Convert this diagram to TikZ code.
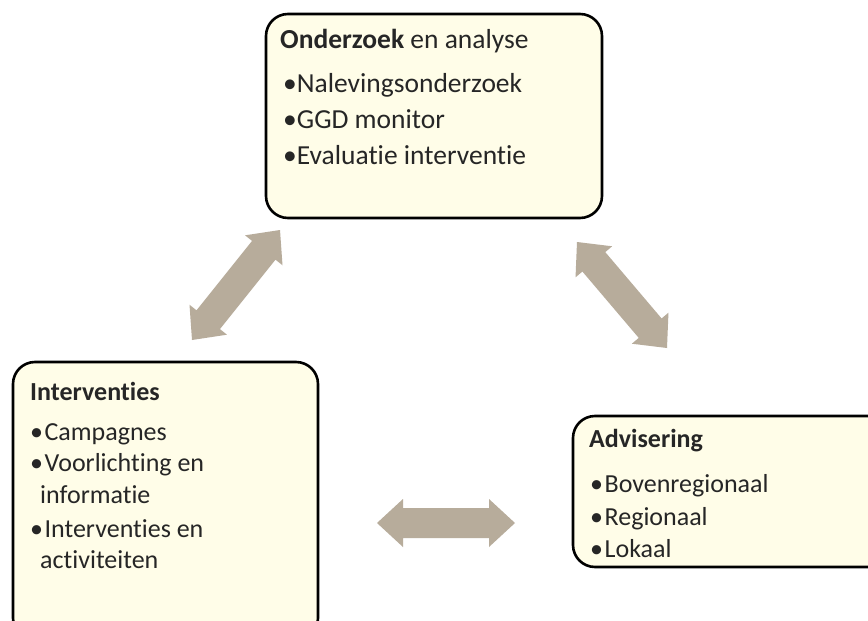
\documentclass[tikz,border=0pt]{standalone}
\usepackage{fontspec}
\setmainfont[Ligatures={NoCommon,NoContextual}]{Carlito}
\usetikzlibrary{calc}
\definecolor{boxfill}{HTML}{FFFDE8}
\definecolor{arrowfill}{HTML}{B7AC9B}
\tikzset{
  box/.style={draw=black, line width=2.6pt, fill=boxfill, rounded corners=22pt, inner sep=0pt},
  txt/.style={anchor=base west, inner sep=0pt, text=black!85},
  bigtxt/.style={txt, font=\fontsize{27.5}{33}\selectfont},
  midtxt/.style={txt, font=\fontsize{26}{31}\selectfont},
  arrowbody/.style={fill=arrowfill, draw=none},
}
\newcommand{\blockarrow}[3]{%
  \coordinate (#3h1) at ($(#1)!26pt!(#2)$);
  \coordinate (#3h2) at ($(#2)!26pt!(#1)$);
  \fill[arrowbody] (#1) -- ($(#3h1)!24pt!90:(#2)$) -- ($(#3h1)!15pt!90:(#2)$)
    -- ($(#3h2)!15pt!-90:(#1)$) -- ($(#3h2)!24pt!-90:(#1)$) -- (#2)
    -- ($(#3h2)!24pt!90:(#1)$) -- ($(#3h2)!15pt!90:(#1)$)
    -- ($(#3h1)!15pt!-90:(#2)$) -- ($(#3h1)!24pt!-90:(#2)$) -- cycle;
}
\begin{document}
\begin{tikzpicture}[x=1pt,y=-1pt]
\useasboundingbox (0,0) rectangle (868,621);
\clip (0,0) rectangle (868,621);
\fill[white] (0,0) rectangle (868,621);
% boxes
\node[box, minimum width=336pt, minimum height=204pt] (top) at (434,116) {};
\node[box, minimum width=305pt, minimum height=278pt] (left) at (165.5,501) {};
\node[box, minimum width=327pt, minimum height=151pt] (right) at (736.5,491.5) {};
% text top
\node[bigtxt] (t0) at (280,48) {\textbf{Onderzoek} en analyse};
\node[bigtxt] (t1) at (283,92) {•Nalevingsonderzoek};
\node[bigtxt] (t2) at (283,128) {•GGD monitor};
\node[bigtxt] (t3) at (283,164) {•Evaluatie interventie};
% text left
\node[midtxt] (l0) at (30,400) {\textbf{Interventies}};
\node[midtxt] (l1) at (30,440) {•\kern1.5pt Campagnes};
\node[midtxt] (l2) at (30,471) {•\kern1.5pt Voorlichting en};
\node[midtxt] (l3) at (40,503) {informatie};
\node[midtxt] (l4) at (30,537) {•\kern1.5pt Interventies en};
\node[midtxt] (l5) at (40,568) {activiteiten};
% text right
\node[midtxt] (r0) at (589,447) {\textbf{Advisering}};
\node[midtxt] (r1) at (590,492) {•\kern1.5pt Bovenregionaal};
\node[midtxt] (r2) at (590,525) {•\kern1.5pt Regionaal};
\node[midtxt] (r3) at (590,557) {•\kern1.5pt Lokaal};
% arrows
\coordinate (a1) at (192,340);
\coordinate (a2) at (280,230);
\coordinate (b1) at (577,242);
\coordinate (b2) at (667,348);
\coordinate (c1) at (377,523);
\coordinate (c2) at (515,523);
\blockarrow{a1}{a2}{aa}
\blockarrow{b1}{b2}{bb}
\blockarrow{c1}{c2}{cc}
\end{tikzpicture}
\end{document}
